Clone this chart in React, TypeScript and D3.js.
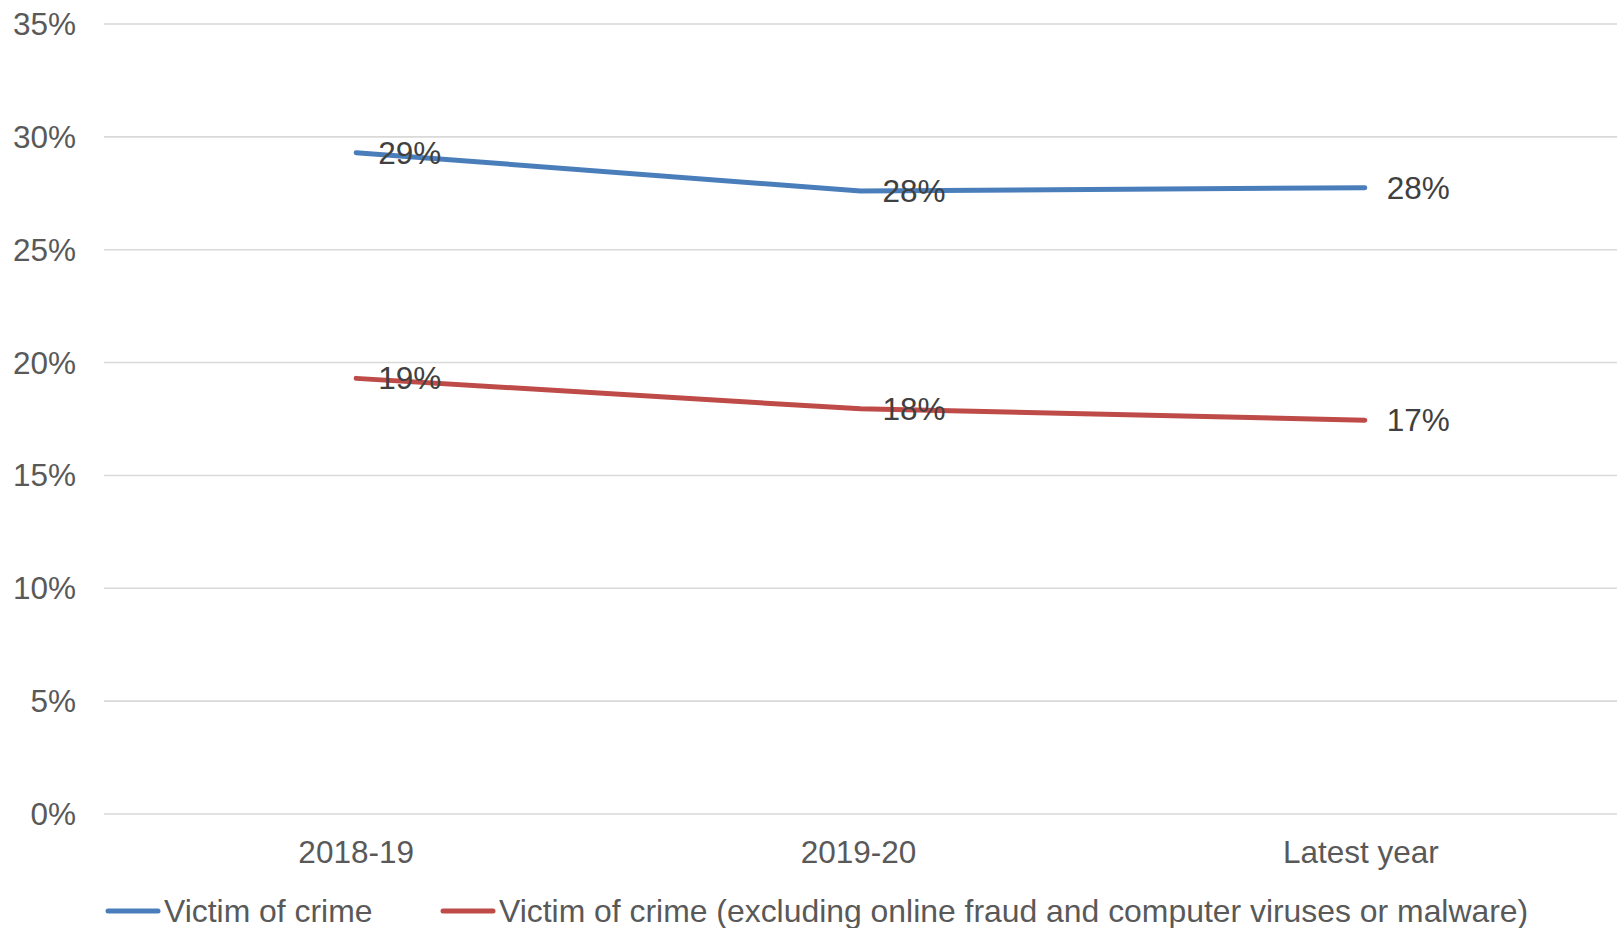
import React from "react";
import * as d3 from "d3";

const categories = ["2018-19", "2019-20", "Latest year"];
const victimAll = [29.3, 27.6, 27.75];
const victimExcl = [19.3, 17.95, 17.45];
const labelsAll = ["29%", "28%", "28%"];
const labelsExcl = ["19%", "18%", "17%"];
const yTicks = [0, 5, 10, 15, 20, 25, 30, 35];
const seriesNames = [
  "Victim of crime",
  "Victim of crime (excluding online fraud and computer viruses or malware)",
];
const colors = ["#4a7ebb", "#be4b48"];

const W = 1617;
const H = 928;
const FONT = "'Liberation Sans', Arial, sans-serif";

export default function App() {
  const x = d3.scaleBand<string>().domain(categories).range([104, 1617]).padding(0);
  const cx = (c: string) => (x(c) as number) + x.bandwidth() / 2;
  const y = d3.scaleLinear().domain([0, 35]).range([814, 24]);
  const line = d3
    .line<number>()
    .x((_, i) => cx(categories[i]))
    .y((d) => y(d));

  const series = [
    { values: victimAll, labels: labelsAll, color: colors[0] },
    { values: victimExcl, labels: labelsExcl, color: colors[1] },
  ];

  return (
    <svg
      width={W}
      height={H}
      style={{ position: "absolute", left: 0, top: 0, background: "#fff" }}
      fontFamily={FONT}
    >
      {yTicks.map((t) => (
        <g key={t}>
          <line x1={104} x2={1617} y1={y(t)} y2={y(t)} stroke="#d9d9d9" strokeWidth={1.6} />
          <text
            x={76}
            y={y(t)}
            dy="0.35em"
            textAnchor="end"
            fontSize={31.5}
            fill="#595959"
          >
            {t}%
          </text>
        </g>
      ))}
      {categories.map((c, i) => (
        <text key={c} x={cx(c) - i * 2} y={852} dy="0.35em" textAnchor="middle" fontSize={31.5} fill="#595959">
          {c}
        </text>
      ))}
      {series.map((s, si) => (
        <g key={si}>
          <path d={line(s.values) || ""} fill="none" stroke={s.color} strokeWidth={5} strokeLinecap="round" strokeLinejoin="round" />
          {s.values.map((v, i) => (
            <text
              key={i}
              x={cx(categories[i]) + 22}
              y={y(v)}
              dy="0.35em"
              fontSize={31.5}
              fill="#404040"
            >
              {s.labels[i]}
            </text>
          ))}
        </g>
      ))}
      {/* legend */}
      <g>
        <line x1={108} x2={158} y1={911} y2={911} stroke={colors[0]} strokeWidth={5} strokeLinecap="round" />
        <text x={164} y={911} dy="0.35em" fontSize={31.9} fill="#595959">
          {seriesNames[0]}
        </text>
        <line x1={443} x2={493} y1={911} y2={911} stroke={colors[1]} strokeWidth={5} strokeLinecap="round" />
        <text x={499} y={911} dy="0.35em" fontSize={31.9} fill="#595959">
          {seriesNames[1]}
        </text>
      </g>
    </svg>
  );
}
